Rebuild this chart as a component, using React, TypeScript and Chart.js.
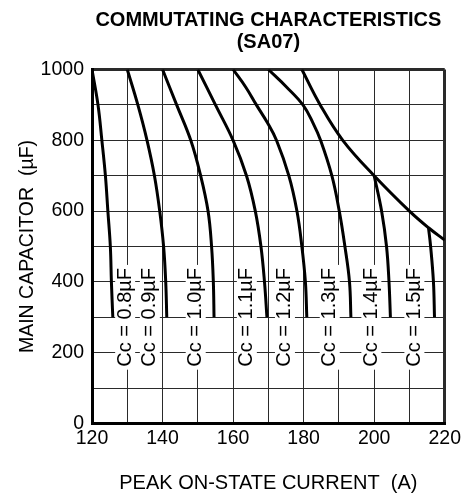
import React, { useEffect, useRef } from 'react';
import { Chart, registerables } from 'chart.js';

Chart.register(...registerables);

const FONT = 'Arial, "Liberation Sans", sans-serif';

const TITLE_LINES = ['COMMUTATING CHARACTERISTICS', '(SA07)'];
const X_TITLE = 'PEAK ON-STATE CURRENT  (A)';
const Y_TITLE = 'MAIN CAPACITOR  (µF)';

const X_MIN = 120;
const X_MAX = 220;
const X_STEP = 10;
const Y_MIN = 0;
const Y_MAX = 1000;
const Y_STEP = 100;
const X_TICK_LABELS = [120, 140, 160, 180, 200, 220];
const Y_TICK_LABELS = [0, 200, 400, 600, 800, 1000];

// Main capacitor values (µF) sampled along the Cc curves
const CAP_LEVELS = [1000, 900, 800, 700, 600, 500, 400, 300];
const CAP_LEVELS_FINE = [1000, 950, 900, 850, 800, 700, 600, 500, 400, 300];
// Peak on-state current (A) of each curve at those capacitor values
const I_CC08 = [120, 121.7, 122.8, 123.8, 124.5, 125.2, 125.5, 125.9];
const I_CC09 = [130, 133.0, 135.6, 137.7, 139.2, 140.3, 140.9, 141.2];
const I_CC10 = [140, 144.0, 148.0, 150.8, 152.9, 153.9, 154.4, 154.6];
const I_CC11 = [150, 155.0, 160.0, 163.8, 166.3, 167.9, 168.9, 169.6];
const I_CC12 = [160, 163.6, 166.6, 169.7, 172.3, 175.8, 178.1, 179.5, 180.5, 180.9];
const I_CC13 = [170, 175.2, 179.8, 182.6, 184.8, 188.0, 190.1, 191.7, 193.0, 193.4];

// Upper limit curve shared by Cc = 1.4µF and 1.5µF
const ENVELOPE_I = [179.5, 184.7, 191.1, 200, 210, 215.4, 220];
const ENVELOPE_C = [1000, 900, 800, 700, 600, 553, 518];
const BRANCH14_I = [200, 202.1, 203.5, 204.2, 204.6];
const BRANCH14_C = [700, 600, 500, 400, 300];
const BRANCH15_I = [215.4, 216.0, 216.8, 217.1];
const BRANCH15_C = [553, 500, 400, 300];

const CURVE_LABELS = ['Cc = 0.8µF', 'Cc = 0.9µF', 'Cc = 1.0µF', 'Cc = 1.1µF', 'Cc = 1.2µF', 'Cc = 1.3µF', 'Cc = 1.4µF', 'Cc = 1.5µF'];
const LABEL_I = [129.4, 136.4, 149.4, 163.9, 174.7, 187.4, 199.2, 211.4];
const LABEL_C = 300;

const toPoints = (xs: number[], ys: number[]) => xs.map((x, i) => ({ x, y: ys[i] }));

const labelPlugin = {
  id: 'ccLabels',
  beforeDatasetsDraw(chart: any) {
    const { ctx } = chart;
    const xs = chart.scales.x;
    const ys = chart.scales.y;
    ctx.save();
    ctx.font = `20px ${FONT}`;
    CURVE_LABELS.forEach((t, i) => {
      const px = xs.getPixelForValue(LABEL_I[i]);
      const py = ys.getPixelForValue(LABEL_C);
      const w = ctx.measureText(t).width;
      ctx.save();
      ctx.translate(px, py);
      ctx.rotate(-Math.PI / 2);
      ctx.fillStyle = '#ffffff';
      ctx.fillRect(-w / 2 - 3, -10, w + 6, 20);
      ctx.fillStyle = '#000000';
      ctx.textAlign = 'center';
      ctx.textBaseline = 'middle';
      ctx.fillText(t, 0, 0);
      ctx.restore();
    });
    ctx.restore();
  },
};

export default function App() {
  const canvasRef = useRef<HTMLCanvasElement | null>(null);

  useEffect(() => {
    if (!canvasRef.current) return;
    const curve = (data: { x: number; y: number }[]) => ({
      data,
      borderColor: '#000000',
      borderWidth: 3,
      pointRadius: 0,
      showLine: true,
      tension: 0.4,
      fill: false,
    });
    const datasets = [
      curve(toPoints(I_CC08, CAP_LEVELS)),
      curve(toPoints(I_CC09, CAP_LEVELS)),
      curve(toPoints(I_CC10, CAP_LEVELS)),
      curve(toPoints(I_CC11, CAP_LEVELS)),
      curve(toPoints(I_CC12, CAP_LEVELS_FINE)),
      curve(toPoints(I_CC13, CAP_LEVELS_FINE)),
      curve(toPoints(ENVELOPE_I, ENVELOPE_C)),
      curve(toPoints(BRANCH14_I, BRANCH14_C)),
      curve(toPoints(BRANCH15_I, BRANCH15_C)),
    ];
    const edgeWidth = (min: number, max: number) => (c: any) =>
      c.tick && (c.tick.value === min || c.tick.value === max) ? 3 : 1;

    const chart = new Chart(canvasRef.current, {
      type: 'scatter',
      data: { datasets },
      plugins: [labelPlugin],
      options: {
        animation: false,
        responsive: true,
        maintainAspectRatio: false,
        layout: { padding: { left: 0, right: 17, top: 0, bottom: 0 } },
        plugins: {
          legend: { display: false },
          tooltip: { enabled: false },
          title: {
            display: true,
            text: TITLE_LINES,
            fullSize: false,
            color: '#000000',
            font: { family: FONT, size: 20, weight: 'bold', lineHeight: 22 / 20 },
            padding: { top: 9, bottom: 16.5 },
          },
        },
        scales: {
          x: {
            type: 'linear',
            min: X_MIN,
            max: X_MAX,
            afterFit: (s: any) => { s.height = 74.5; },
            ticks: {
              stepSize: X_STEP,
              autoSkip: false,
              maxRotation: 0,
              padding: 3,
              color: '#000000',
              font: { family: FONT, size: 19.5 },
              callback: (v: any) => (X_TICK_LABELS.includes(Number(v)) ? String(v) : ''),
            },
            grid: { color: '#2a2a2a', lineWidth: edgeWidth(X_MIN, X_MAX), drawTicks: false },
            border: { display: true, color: '#000000', width: 3 },
            title: {
              display: true,
              text: X_TITLE,
              color: '#000000',
              font: { family: FONT, size: 20 },
              padding: { top: 0, bottom: 3 },
            },
          },
          y: {
            type: 'linear',
            min: Y_MIN,
            max: Y_MAX,
            afterFit: (s: any) => { s.width = 92; },
            ticks: {
              stepSize: Y_STEP,
              autoSkip: false,
              padding: 8,
              color: '#000000',
              font: { family: FONT, size: 19.5 },
              callback: (v: any) => (Y_TICK_LABELS.includes(Number(v)) ? String(v) : ''),
            },
            grid: { color: '#2a2a2a', lineWidth: edgeWidth(Y_MIN, Y_MAX), drawTicks: false },
            border: { display: true, color: '#000000', width: 3 },
            title: {
              display: true,
              text: Y_TITLE,
              color: '#000000',
              font: { family: FONT, size: 19.5 },
              padding: { top: 16, bottom: 0 },
            },
          },
        },
      },
    } as any);
    return () => chart.destroy();
  }, []);

  return (
    <div style={{ position: 'absolute', left: 0, top: 0, width: 464, height: 498, background: '#ffffff' }}>
      <canvas ref={canvasRef} />
    </div>
  );
}
